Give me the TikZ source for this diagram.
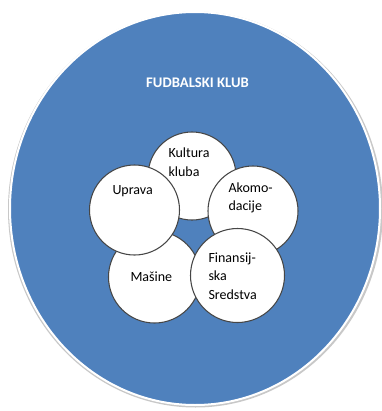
\documentclass[tikz,border=0pt]{standalone}
\usepackage{fontspec}
\setmainfont{Carlito}
\definecolor{clubblue}{RGB}{79,129,189}
\definecolor{rimgray}{RGB}{200,200,200}
\definecolor{ringline}{RGB}{70,70,70}
\tikzset{every picture/.style={line width=0.75pt}}
\tikzset{
  ring/.style={circle, draw=ringline, fill=white, line width=0.8pt, inner sep=0pt},
  ringtext/.style={anchor=west, inner sep=0.75pt, align=left, font=\fontsize{10.5}{14}\selectfont, text=black}
}
\begin{document}
\begin{tikzpicture}[x=0.75pt,y=0.75pt,yscale=-1,xscale=1]
%set diagram left start at 0, and has height of 411
\useasboundingbox (0,0) rectangle (382,411);

%Shape: Ellipse [id:club]
\fill [rimgray] (195.5,209.5) ellipse (187.5 and 198);
\filldraw [fill=clubblue, draw=white, line width=1.5pt] (195,208.5) ellipse (185 and 196.5);

%Shape: Circle [id:kultura]
\node [ring, minimum size=66pt] (kultura) at (192,176) {};
%Shape: Circle [id:akomodacije]
\node [ring, minimum size=67.5pt] (akomodacije) at (253,211) {};
%Shape: Circle [id:masine]
\node [ring, minimum size=69pt] (masine) at (154.5,277) {};
%Shape: Circle [id:finansije]
\node [ring, minimum size=70.5pt] (finansije) at (237.5,275.5) {};
%Shape: Circle [id:uprava]
\node [ring, minimum size=67.5pt] (uprava) at (134.5,210) {};

% Text Node
\node [inner sep=0.75pt, text=white, font=\fontsize{11}{13}\selectfont\bfseries] (naslov) at (197.5,83) {FUDBALSKI KLUB};
% Text Node
\node [ringtext] (tkultura) at (167,162) {Kultura\\kluba};
% Text Node
\node [ringtext] (tuprava) at (111,191) {Uprava};
% Text Node
\node [ringtext] (takomodacije) at (227,198) {Akomo-\\dacije};
% Text Node
\node [ringtext] (tmasine) at (129,277) {Mašine};
% Text Node
\node [ringtext] (tfinansije) at (207,276) {Finansij-\\ska\\Sredstva};

\end{tikzpicture}
\end{document}
